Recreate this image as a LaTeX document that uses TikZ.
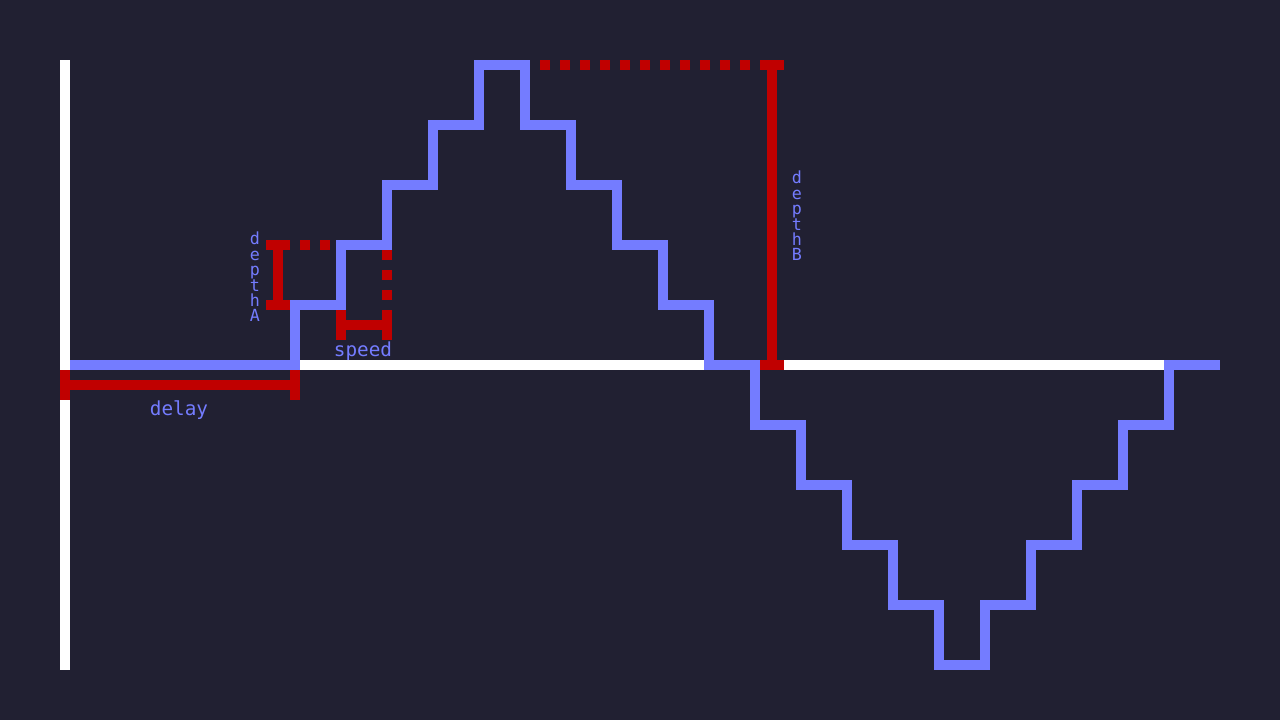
\documentclass[tikz,border=0pt]{standalone}
\usepackage{fontspec}
\setmonofont{DejaVu Sans Mono}
\usepackage{tikz}

\definecolor{screenbg}{RGB}{33,32,50}
\definecolor{waveblue}{RGB}{116,124,255}
\definecolor{markred}{RGB}{192,0,0}

\tikzset{
  axisline/.style={draw=white,line width=2mm},
  waveline/.style={draw=waveblue,line width=2mm,line join=miter},
  redbar/.style={draw=markred,line width=2mm},
  reddots/.style={draw=markred,line width=2mm,dash pattern=on 2mm off 2mm},
  lbl/.style={text=waveblue,font=\ttfamily\fontsize{11}{8.8}\selectfont,inner sep=0pt},
  vlbl/.style={lbl,font=\ttfamily\fontsize{9.5}{8.8}\selectfont,align=center},
}

\begin{document}
\begin{tikzpicture}[x=0.02cm,y=-0.02cm]
% pixel grid: 1 unit = 1 px of the 1280x720 screen
\fill[screenbg] (0,0) rectangle (1280,720);
\useasboundingbox (0,0) rectangle (1280,720);

% axes
\draw[axisline] (65,60) -- (65,670);
\draw[axisline] (60,365) -- (1169,365);

% stepped wave
\draw[waveline] (70,365) -| (295,305) -| (341,245) -| (387,185) -| (433,125) -| (479,65)
  -| (525,125) -| (571,185) -| (617,245) -| (663,305) -| (709,365)
  -| (755,425) -| (801,485) -| (847,545) -| (893,605) -| (939,665)
  -| (985,605) -| (1031,545) -| (1077,485) -| (1123,425) -| (1169,365) -- (1220,365);

% delay
\draw[redbar] (65,385) -- (295,385);
\draw[redbar] (65,370) -- (65,400);
\draw[redbar] (295,370) -- (295,400);
\node[lbl] (delay) at (179,410) {delay};

% depthA
\draw[redbar] (278,245) -- (278,305);
\draw[redbar] (266,245) -- (290,245);
\draw[redbar] (266,305) -- (290,305);
\draw[reddots] (300,245) -- (330,245);
\node[vlbl] (depthA) at (255,277) {d\\e\\p\\t\\h\\A};

% speed
\draw[redbar] (341,310) -- (341,340);
\draw[redbar] (387,310) -- (387,340);
\draw[redbar] (341,325) -- (387,325);
\draw[reddots] (387,250) -- (387,300);
\node[lbl] (speed) at (363,351) {speed};

% depthB
\draw[redbar] (772,65) -- (772,365);
\draw[redbar] (760,65) -- (784,65);
\draw[redbar] (760,365) -- (784,365);
\draw[reddots] (540,65) -- (750,65);
\node[vlbl] (depthB) at (797,216) {d\\e\\p\\t\\h\\B};
\end{tikzpicture}
\end{document}
